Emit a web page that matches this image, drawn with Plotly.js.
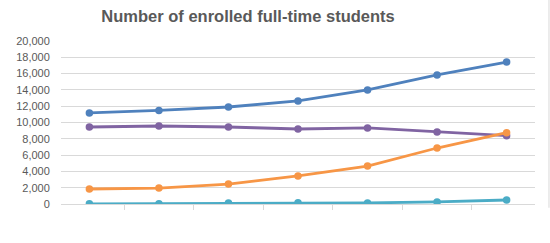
<!DOCTYPE html>
<html>
<head>
<meta charset="utf-8">
<script src="https://cdn.plot.ly/plotly-3.0.1.min.js"></script>
<style>
  html, body { margin: 0; padding: 0; background: #fff; }
  #chart { width: 550px; height: 243px; }
</style>
</head>
<body>
<div id="chart"></div>
<script>
// categories have no printed labels in the original chart
const periods = ['P1', 'P2', 'P3', 'P4', 'P5', 'P6', 'P7'];

const blueSeries = [11170, 11480, 11900, 12640, 13990, 15830, 17420];
const purpleSeries = [9450, 9570, 9450, 9200, 9330, 8830, 8380];
const orangeSeries = [1840, 1960, 2450, 3440, 4660, 6870, 8750];
const tealSeries = [20, 30, 130, 140, 130, 260, 490];

const yTickVals = [0, 2000, 4000, 6000, 8000, 10000, 12000, 14000, 16000, 18000, 20000];
const yTickText = ['0', '2,000', '4,000', '6,000', '8,000', '10,000', '12,000', '14,000', '16,000', '18,000', '20,000'];

function makeTrace(values, color) {
    return {
        x: periods,
        y: values,
        type: 'scatter',
        mode: 'lines+markers',
        line: { color: color, width: 2.8 },
        marker: { color: color, size: 7.5 },
        hoverinfo: 'y'
    };
}

var data = [
    makeTrace(blueSeries, '#4f81bd'),
    makeTrace(purpleSeries, '#8064a2'),
    makeTrace(orangeSeries, '#f79646'),
    makeTrace(tealSeries, '#4bacc6')
];

var layout = {
    width: 550,
    height: 243,
    margin: { l: 61, r: 15, t: 41, b: 39 },
    paper_bgcolor: '#ffffff',
    plot_bgcolor: '#ffffff',
    showlegend: false,
    title: {
        text: 'Number of enrolled full-time students',
        font: { family: 'Liberation Sans, Arial, sans-serif', size: 16.5, color: '#595959', weight: 'bold' },
        xref: 'container',
        x: 0.451,
        xanchor: 'center',
        yref: 'container',
        y: 0.935,
        yanchor: 'middle'
    },
    xaxis: {
        type: 'category',
        tickson: 'boundaries',
        ticks: 'outside',
        ticklen: 5,
        tickcolor: '#d9d9d9',
        showticklabels: false,
        showgrid: false,
        showline: true,
        linecolor: '#d9d9d9',
        linewidth: 1,
        zeroline: false,
        fixedrange: true
    },
    yaxis: {
        range: [0, 20000],
        tickvals: yTickVals,
        ticktext: yTickText,
        ticks: 'outside',
        ticklen: 8,
        tickcolor: 'rgba(0,0,0,0)',
        tickfont: { family: 'Liberation Sans, Arial, sans-serif', size: 11, color: '#595959' },
        showgrid: true,
        gridcolor: '#d9d9d9',
        gridwidth: 1,
        zeroline: false,
        showline: false,
        fixedrange: true
    },
    shapes: [{
        type: 'line',
        xref: 'paper',
        yref: 'paper',
        x0: 1.0295, x1: 1.0295,
        y0: -0.023, y1: 1.253,
        line: { color: '#d9d9d9', width: 1 }
    }]
};

Plotly.newPlot('chart', data, layout, { displayModeBar: false, staticPlot: true });
</script>
</body>
</html>
